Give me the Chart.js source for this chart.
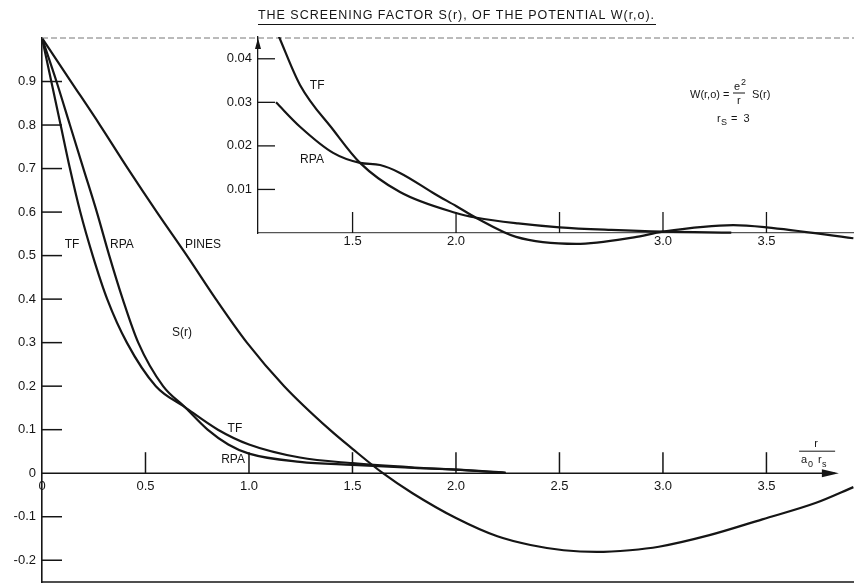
<!DOCTYPE html>
<html>
<head>
<meta charset="utf-8">
<script src="https://cdn.jsdelivr.net/npm/chart.js@4.4.0/dist/chart.umd.min.js"></script>
<style>
  html, body { margin: 0; padding: 0; background: #fff; }
  #wrap { position: relative; width: 854px; height: 584px; }
  #wrap canvas { position: absolute; left: 0; top: 0; }
</style>
</head>
<body>
<div id="wrap">
  <canvas id="mainChart" width="854" height="584"></canvas>
  <canvas id="insetChart" width="854" height="584"></canvas>
</div>
<script>
// main plot: S(r) against r/(a0 rs)
const tfX = [0, 0.045, 0.09, 0.135, 0.185, 0.245, 0.315, 0.41, 0.55, 0.69, 0.85, 1.0, 1.246, 1.5, 1.8, 2.0, 2.24];
const tfY = [1.0, 0.9, 0.8, 0.7, 0.6, 0.5, 0.4, 0.3, 0.2, 0.152, 0.1, 0.066, 0.036, 0.023, 0.013, 0.008, 0.001];

const rpaX = [0, 0.07, 0.135, 0.2, 0.265, 0.325, 0.39, 0.465, 0.585, 0.69, 0.80, 0.9, 1.0, 1.246, 1.5, 1.8, 2.0, 2.24];
const rpaY = [1.0, 0.9, 0.8, 0.7, 0.6, 0.5, 0.4, 0.3, 0.2, 0.152, 0.1, 0.066, 0.045, 0.026, 0.019, 0.012, 0.008, 0.001];

const pinesX = [0, 0.14, 0.28, 0.415, 0.555, 0.70, 0.84, 0.99, 1.17, 1.39, 1.5, 1.647, 1.79, 2.0, 2.2, 2.36, 2.52, 2.68, 2.84, 2.98, 3.22, 3.48, 3.74, 3.92];
const pinesY = [1.0, 0.9, 0.8, 0.7, 0.6, 0.5, 0.4, 0.3, 0.2, 0.1, 0.056, 0, -0.046, -0.103, -0.145, -0.165, -0.177, -0.181, -0.177, -0.169, -0.143, -0.106, -0.068, -0.032];

const mainXTicks = [0, 0.5, 1.0, 1.5, 2.0, 2.5, 3.0, 3.5];
const mainXLabels = ['0', '0.5', '1.0', '1.5', '2.0', '2.5', '3.0', '3.5'];
const mainYTicks = [-0.2, -0.1, 0, 0.1, 0.2, 0.3, 0.4, 0.5, 0.6, 0.7, 0.8, 0.9];
const mainYLabels = ['-0.2', '-0.1', '0', '0.1', '0.2', '0.3', '0.4', '0.5', '0.6', '0.7', '0.8', '0.9'];

// inset: the tail, magnified
const insetTfX = [1.10, 1.145, 1.246, 1.406, 1.536, 1.729, 2.0, 2.1, 2.3, 2.5, 2.75, 3.0, 3.33];
const insetTfY = [0.05, 0.045, 0.034, 0.0237, 0.0161, 0.0094, 0.0046, 0.0035, 0.0022, 0.0013, 0.0007, 0.0003, 0.0001];

const insetRpaX = [1.13, 1.246, 1.406, 1.536, 1.633, 1.729, 1.9, 2.0, 2.10, 2.29, 2.58, 2.86, 3.0, 3.34, 3.5, 3.92];
const insetRpaY = [0.030, 0.0244, 0.0184, 0.0161, 0.0156, 0.0138, 0.0089, 0.0062, 0.0034, -0.0009, -0.0025, -0.001, 0.0003, 0.0018, 0.0013, -0.0012];

const insetXTicks = [1.5, 2.0, 2.5, 3.0, 3.5];
const insetXLabels = ['1.5', '2.0', '', '3.0', '3.5'];
const insetYTicks = [0.01, 0.02, 0.03, 0.04];
const insetYLabels = ['0.01', '0.02', '0.03', '0.04'];

const INK = '#151515';
const FONT = '"Liberation Sans", Arial, sans-serif';

function toPoints(xs, ys) {
    return xs.map((x, i) => ({ x: x, y: ys[i] }));
}

function curve(xs, ys, clip) {
    return {
        data: toPoints(xs, ys),
        borderColor: INK,
        borderWidth: 2.2,
        pointRadius: 0,
        fill: false,
        cubicInterpolationMode: 'monotone',
        clip: clip
    };
}

function line(ctx, x1, y1, x2, y2) {
    ctx.beginPath();
    ctx.moveTo(x1, y1);
    ctx.lineTo(x2, y2);
    ctx.stroke();
}

// keep the label half-heights from eating into the plot area
function noPad(s) {
    s.paddingTop = 0;
    s.paddingBottom = 0;
    s.paddingLeft = 0;
    s.paddingRight = 0;
}

const mainDecor = {
    id: 'mainDecor',
    afterDraw(chart) {
        const { ctx, chartArea, scales: { x, y } } = chart;
        const y0 = y.getPixelForValue(0);
        ctx.save();
        ctx.strokeStyle = INK;
        ctx.fillStyle = INK;
        ctx.lineWidth = 1.5;

        // r axis with arrow
        const tip = x.getPixelForValue(3.85);
        line(ctx, chartArea.left, y0, tip - 4, y0);
        ctx.beginPath();
        ctx.moveTo(tip, y0);
        ctx.lineTo(tip - 17, y0 - 4);
        ctx.lineTo(tip - 17, y0 + 4);
        ctx.closePath();
        ctx.fill();

        // tick marks point into the plot
        mainXTicks.forEach(v => {
            if (v === 0) return;
            const px = x.getPixelForValue(v);
            line(ctx, px, y0, px, y0 - 21);
        });
        mainYTicks.forEach(v => {
            if (v === 0) return;
            const py = y.getPixelForValue(v);
            line(ctx, chartArea.left, py, chartArea.left + 20, py);
        });

        // frame
        ctx.lineWidth = 1.6;
        line(ctx, chartArea.left, chartArea.bottom, chartArea.right, chartArea.bottom);
        ctx.strokeStyle = '#777';
        ctx.lineWidth = 1;
        ctx.setLineDash([6, 3]);
        line(ctx, chartArea.left, chartArea.top, chartArea.right, chartArea.top);
        ctx.setLineDash([]);

        // title, underlined
        const title = 'THE SCREENING FACTOR S(r), OF THE POTENTIAL W(r,o).';
        ctx.font = '12.5px ' + FONT;
        const w0 = ctx.measureText(title).width;
        ctx.letterSpacing = ((397 - w0) / title.length) + 'px';
        ctx.textAlign = 'left';
        ctx.textBaseline = 'alphabetic';
        ctx.fillText(title, 258, 18.5);
        ctx.letterSpacing = '0px';
        ctx.strokeStyle = INK;
        ctx.lineWidth = 1;
        line(ctx, 258, 24.5, 656, 24.5);

        // curve names
        ctx.font = '12px ' + FONT;
        ctx.textAlign = 'center';
        ctx.textBaseline = 'middle';
        [
            ['TF', 0.145, 0.524], ['RPA', 0.386, 0.524], ['PINES', 0.778, 0.524],
            ['S(r)', 0.676, 0.324], ['TF', 0.932, 0.103], ['RPA', 0.923, 0.032]
        ].forEach(([t, vx, vy]) => {
            ctx.fillText(t, x.getPixelForValue(vx), y.getPixelForValue(vy));
        });

        // axis name r / a0 rs
        const nx = x.getPixelForValue(3.74);
        ctx.font = '11px ' + FONT;
        ctx.fillText('r', nx, y0 - 29);
        ctx.lineWidth = 1;
        line(ctx, nx - 17, y0 - 22, nx + 19, y0 - 22);
        ctx.textAlign = 'left';
        ctx.fillText('a', nx - 15, y0 - 13);
        ctx.fillText('r', nx + 2, y0 - 13);
        ctx.font = '9px ' + FONT;
        ctx.fillText('0', nx - 8, y0 - 9);
        ctx.fillText('s', nx + 6, y0 - 9);
        ctx.restore();
    }
};

const insetDecor = {
    id: 'insetDecor',
    afterDraw(chart) {
        const { ctx, chartArea, scales: { x, y } } = chart;
        const y0 = y.getPixelForValue(0);
        ctx.save();
        ctx.strokeStyle = INK;
        ctx.fillStyle = INK;
        ctx.lineWidth = 1.3;

        insetXTicks.forEach(v => {
            const px = x.getPixelForValue(v);
            line(ctx, px, y0, px, y0 - 21);
        });
        insetYTicks.forEach(v => {
            const py = y.getPixelForValue(v);
            line(ctx, chartArea.left, py, chartArea.left + 17, py);
        });

        // arrow on the inset axis
        ctx.beginPath();
        ctx.moveTo(chartArea.left, chartArea.top + 1);
        ctx.lineTo(chartArea.left - 3, chartArea.top + 12);
        ctx.lineTo(chartArea.left + 3, chartArea.top + 12);
        ctx.closePath();
        ctx.fill();

        ctx.font = '12px ' + FONT;
        ctx.textAlign = 'center';
        ctx.textBaseline = 'middle';
        ctx.fillText('TF', x.getPixelForValue(1.329), y.getPixelForValue(0.0338));
        ctx.fillText('RPA', x.getPixelForValue(1.304), y.getPixelForValue(0.0168));

        // W(r,o) = e^2 / r  S(r),  rs = 3
        ctx.font = '11px ' + FONT;
        ctx.textAlign = 'left';
        ctx.textBaseline = 'alphabetic';
        ctx.fillText('W(r,o) =', 690, 98);
        ctx.fillText('e', 734, 90);
        ctx.font = '9px ' + FONT;
        ctx.fillText('2', 741, 85);
        ctx.lineWidth = 1;
        line(ctx, 733, 93, 745, 93);
        ctx.font = '11px ' + FONT;
        ctx.fillText('r', 737, 104);
        ctx.fillText('S(r)', 752, 98);
        ctx.fillText('r', 717, 122);
        ctx.font = '9px ' + FONT;
        ctx.fillText('S', 721, 125);
        ctx.font = '11px ' + FONT;
        ctx.fillText('=  3', 731, 122);
        ctx.restore();
    }
};

new Chart(document.getElementById('mainChart'), {
    type: 'line',
    data: {
        datasets: [
            curve(tfX, tfY, 0),
            curve(rpaX, rpaY, 0),
            curve(pinesX, pinesY, 0)
        ]
    },
    options: {
        responsive: false,
        animation: false,
        layout: { padding: { left: 0, top: 38, right: 0, bottom: 2 } },
        plugins: { legend: { display: false }, tooltip: { enabled: false } },
        scales: {
            x: {
                type: 'linear',
                position: { y: 0 },
                min: 0,
                max: 3.923,
                afterFit: noPad,
                afterBuildTicks: s => { s.ticks = mainXTicks.map(v => ({ value: v })); },
                ticks: {
                    autoSkip: false,
                    maxRotation: 0,
                    padding: 5,
                    color: INK,
                    font: { family: FONT, size: 13 },
                    callback: (v, i) => mainXLabels[i]
                },
                grid: { display: false, drawTicks: false },
                border: { display: false }
            },
            y: {
                type: 'linear',
                min: -0.25,
                max: 1.0,
                afterFit: s => { s.width = 42; noPad(s); },
                afterBuildTicks: s => { s.ticks = mainYTicks.map(v => ({ value: v })); },
                ticks: {
                    autoSkip: false,
                    padding: 6,
                    color: INK,
                    font: { family: FONT, size: 13 },
                    callback: (v, i) => mainYLabels[i]
                },
                grid: { display: false, drawTicks: false },
                border: { display: true, color: INK, width: 1.6 }
            }
        }
    },
    plugins: [mainDecor]
});

new Chart(document.getElementById('insetChart'), {
    type: 'line',
    data: {
        datasets: [
            curve(insetTfX, insetTfY, { left: 0, top: 0, right: 0, bottom: 20 }),
            curve(insetRpaX, insetRpaY, { left: 0, top: 0, right: 0, bottom: 20 })
        ]
    },
    options: {
        responsive: false,
        animation: false,
        layout: { padding: { left: 218, top: 37, right: 0, bottom: 351 } },
        plugins: { legend: { display: false }, tooltip: { enabled: false } },
        scales: {
            x: {
                type: 'linear',
                position: { y: 0 },
                min: 1.043,
                max: 3.923,
                afterFit: noPad,
                afterBuildTicks: s => { s.ticks = insetXTicks.map(v => ({ value: v })); },
                ticks: {
                    autoSkip: false,
                    maxRotation: 0,
                    padding: 1,
                    color: INK,
                    font: { family: FONT, size: 13 },
                    callback: (v, i) => insetXLabels[i]
                },
                grid: { display: false, drawTicks: false },
                border: { display: true, color: '#555', width: 1.3 }
            },
            y: {
                type: 'linear',
                min: 0,
                max: 0.045,
                afterFit: s => { s.width = 40; noPad(s); },
                afterBuildTicks: s => { s.ticks = insetYTicks.map(v => ({ value: v })); },
                ticks: {
                    autoSkip: false,
                    padding: 6,
                    color: INK,
                    font: { family: FONT, size: 13 },
                    callback: (v, i) => insetYLabels[i]
                },
                grid: { display: false, drawTicks: false },
                border: { display: true, color: INK, width: 1.3 }
            }
        }
    },
    plugins: [insetDecor]
});
</script>
</body>
</html>
